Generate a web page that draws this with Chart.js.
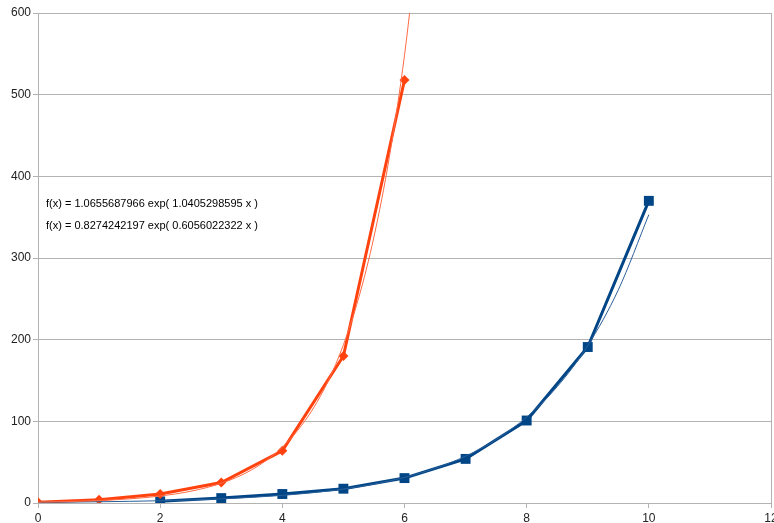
<!DOCTYPE html>
<html>
<head>
<meta charset="utf-8">
<script src="https://cdn.jsdelivr.net/npm/chart.js@4.4.0/dist/chart.umd.min.js"></script>
<style>
  html, body { margin: 0; padding: 0; background: #fff; overflow: hidden; width: 774px; height: 523px; }
  #wrap { position: relative; width: 790px; height: 523px; }
</style>
</head>
<body>
<div id="wrap"><canvas id="c" width="790" height="523"></canvas></div>
<script>
// Data
const orangeX = [0, 1, 2, 3, 4, 5, 6];
const orangeY = [1, 4, 11, 25, 64, 180, 518];
const blueX = [2, 3, 4, 5, 6, 7, 8, 9, 10];
const blueY = [2, 6, 11, 17.5, 30.5, 54, 101, 191, 370];

// Trend lines (exponential fits shown in the chart), sampled values
const orangeTrendX = [0, 0.25, 0.5, 0.75, 1, 1.25, 1.5, 1.75, 2, 2.25, 2.5, 2.75, 3, 3.25, 3.5, 3.75, 4, 4.25, 4.5, 4.75, 5, 5.25, 5.5, 5.75, 6, 6.25];
const orangeTrendY = [1.066, 1.382, 1.793, 2.325, 3.016, 3.913, 5.075, 6.583, 8.539, 11.08, 14.37, 18.64, 24.17, 31.35, 40.66, 52.75, 68.42, 88.75, 115.1, 149.3, 193.7, 251.2, 325.9, 422.7, 548.3, 711.2];
const blueTrendX = [0, 0.5, 1, 1.5, 2, 2.5, 3, 3.5, 4, 4.5, 5, 5.5, 6, 6.5, 7, 7.5, 8, 8.5, 9, 9.5, 10];
const blueTrendY = [0.827, 1.120, 1.516, 2.052, 2.778, 3.761, 5.091, 6.891, 9.328, 12.63, 17.09, 23.14, 31.32, 42.40, 57.39, 77.69, 105.2, 142.4, 192.7, 260.9, 353.1];

const equations = [
  'f(x) = 1.0655687966 exp( 1.0405298595 x )',
  'f(x) = 0.8274242197 exp( 0.6056022322 x )'
];

const xTicks = [0, 2, 4, 6, 8, 10, 12];
const yTicks = [0, 100, 200, 300, 400, 500, 600];

const ORANGE = '#ff420e';
const BLUE = '#004586';
const GRID = '#b3b3b3';

function pts(xs, ys) { return xs.map((x, i) => ({ x: x, y: ys[i] })); }

const eqPlugin = {
  id: 'eq',
  afterDatasetsDraw(chart) {
    const ctx = chart.ctx;
    const a = chart.chartArea;
    ctx.save();
    ctx.fillStyle = '#000';
    ctx.font = '11px "Liberation Sans", Arial, sans-serif';
    ctx.textBaseline = 'middle';
    ctx.fillText(equations[0], a.left + 8, 204);
    ctx.fillText(equations[1], a.left + 8, 226);
    ctx.restore();
  }
};

new Chart(document.getElementById('c'), {
  type: 'line',
  data: {
    datasets: [
      {
        data: pts(orangeTrendX, orangeTrendY),
        borderColor: '#ff6a45',
        borderWidth: 1,
        pointRadius: 0,
        cubicInterpolationMode: 'monotone',
        order: 0
      },
      {
        data: pts(blueTrendX, blueTrendY),
        borderColor: '#2a5f99',
        borderWidth: 1,
        pointRadius: 0,
        cubicInterpolationMode: 'monotone',
        order: 0
      },
      {
        data: pts(orangeX, orangeY),
        borderColor: ORANGE,
        backgroundColor: ORANGE,
        borderWidth: 3,
        pointStyle: 'rectRot',
        pointRadius: 5,
        pointBorderWidth: 0,
        tension: 0,
        order: 1
      },
      {
        data: pts(blueX, blueY),
        borderColor: BLUE,
        backgroundColor: BLUE,
        borderWidth: 3,
        pointStyle: 'rect',
        pointRadius: 7,
        pointBorderWidth: 0,
        tension: 0,
        order: 1
      }
    ]
  },
  options: {
    responsive: false,
    animation: false,
    layout: { padding: { top: 13, right: 19, bottom: 0, left: 0 } },
    plugins: { legend: { display: false }, tooltip: { enabled: false } },
    scales: {
      x: {
        type: 'linear',
        min: 0,
        max: 12,
        afterBuildTicks(scale) { scale.ticks = xTicks.map(v => ({ value: v })); },
        ticks: { color: '#222', font: { size: 12, family: '"Liberation Sans", Arial, sans-serif' }, padding: 3 },
        grid: {
          color: ctx => (ctx.tick && ctx.tick.value === 12) ? GRID : 'rgba(0,0,0,0)',
          tickColor: GRID,
          tickLength: 5,
          lineWidth: 1
        },
        border: { color: GRID, width: 1 },
        afterFit(scale) { scale.height = 20; }
      },
      y: {
        min: 0,
        max: 600,
        afterBuildTicks(scale) { scale.ticks = yTicks.map(v => ({ value: v })); },
        ticks: { color: '#222', font: { size: 12, family: '"Liberation Sans", Arial, sans-serif' }, padding: 2 },
        grid: { color: GRID, tickColor: GRID, tickLength: 5, lineWidth: 1 },
        border: { color: GRID, width: 1 },
        afterFit(scale) { scale.width = 38; }
      }
    }
  },
  plugins: [eqPlugin]
});
</script>
</body>
</html>
